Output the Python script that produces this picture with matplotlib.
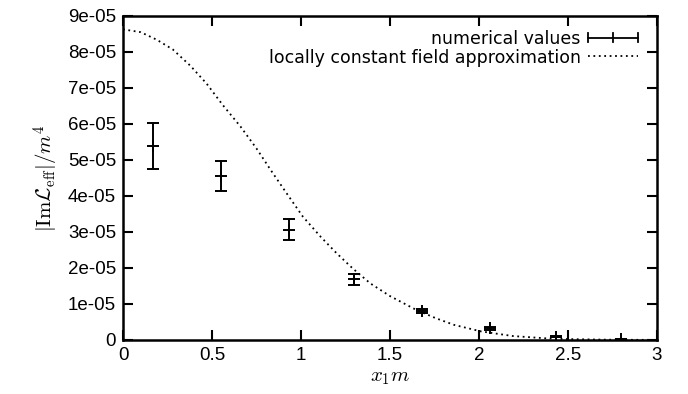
import matplotlib
matplotlib.use("Agg")
import matplotlib.pyplot as plt
from matplotlib.lines import Line2D
from matplotlib.legend_handler import HandlerBase
from matplotlib.container import ErrorbarContainer

# numerical values (x1*m, |Im L_eff|/m^4, error)
x_num = [0.17, 0.55, 0.93, 1.30, 1.68, 2.06, 2.43, 2.80]
y_num = [5.40e-5, 4.56e-5, 3.06e-5, 1.69e-5, 0.80e-5, 0.32e-5, 0.09e-5, 0.02e-5]
y_err = [0.64e-5, 0.41e-5, 0.29e-5, 0.15e-5, 0.05e-5, 0.03e-5, 0.01e-5, 0.005e-5]

# locally constant field approximation
x_lcfa = [0.0, 0.10, 0.19, 0.28, 0.38, 0.47, 0.56, 0.66, 0.75, 0.83, 0.92,
          1.01, 1.11, 1.20, 1.29, 1.39, 1.50, 1.65, 1.76, 1.86, 2.01, 2.19,
          2.38, 2.50, 2.70, 3.0]
y_lcfa = [8.63e-5, 8.55e-5, 8.34e-5, 8.07e-5, 7.61e-5, 7.12e-5, 6.53e-5, 5.93e-5,
          5.32e-5, 4.72e-5, 4.07e-5, 3.43e-5, 2.87e-5, 2.41e-5, 1.99e-5, 1.57e-5,
          1.22e-5, 0.83e-5, 0.60e-5, 0.42e-5, 0.24e-5, 0.11e-5, 0.045e-5,
          0.025e-5, 0.01e-5, 0.002e-5]

xticks = [0, 0.5, 1, 1.5, 2, 2.5, 3]
xticklabels = ["0", "0.5", "1", "1.5", "2", "2.5", "3"]
yticks = [0, 1e-5, 2e-5, 3e-5, 4e-5, 5e-5, 6e-5, 7e-5, 8e-5, 9e-5]
yticklabels = ["0", "1e-05", "2e-05", "3e-05", "4e-05", "5e-05", "6e-05",
               "7e-05", "8e-05", "9e-05"]

plt.rcParams['mathtext.fontset'] = 'cm'

fig = plt.figure(figsize=(6.88, 3.94), dpi=100)
ax = fig.add_axes([123/688, 54/394, (657-123)/688, (340-16)/394])

eb = ax.errorbar(x_num, y_num, yerr=y_err, fmt='+', color='black', ms=9, mew=1.4,
                 elinewidth=1.4, capsize=4.3, capthick=1.4,
                 label='numerical values', zorder=3)
ln, = ax.plot(x_lcfa, y_lcfa, color='black', lw=1.3, ls=(0, (1, 2)),
              label='locally constant field approximation')

ax.set_xlim(0, 3)
ax.set_ylim(0, 9e-5)
ax.set_xticks(xticks)
ax.set_xticklabels(xticklabels, family='Liberation Sans', fontsize=13.5)
ax.set_yticks(yticks)
ax.set_yticklabels(yticklabels, family='Liberation Sans', fontsize=13.5)
ax.tick_params(direction='in', length=7, width=1.5, top=True, right=True, pad=5)
for s in ax.spines.values():
    s.set_linewidth(1.8)

ax.set_xlabel(r'$x_1m$', fontsize=15, labelpad=2)
ax.set_ylabel(r'$|\mathrm{Im}\mathcal{L}_{\mathrm{eff}}|/m^4$', fontsize=15, labelpad=5)


class HandlerHErr(HandlerBase):
    def create_artists(self, legend, orig_handle, xdescent, ydescent, width,
                       height, fontsize, trans):
        y = height / 2 - ydescent
        x0 = -xdescent
        x1 = x0 + width
        xm = (x0 + x1) / 2
        c = height * 0.4
        arts = [Line2D([x0, x1], [y, y], color='black', lw=1.3),
                Line2D([x0, x0], [y - c, y + c], color='black', lw=1.3),
                Line2D([x1, x1], [y - c, y + c], color='black', lw=1.3),
                Line2D([xm, xm], [y - c, y + c], color='black', lw=1.3)]
        for a in arts:
            a.set_transform(trans)
        return arts


leg = ax.legend(handles=[eb, ln], loc='upper right', bbox_to_anchor=(0.984, 0.99),
                frameon=False, markerfirst=False,
                prop={'family': 'DejaVu Sans', 'size': 12.5},
                handlelength=2.9, handletextpad=0.4, labelspacing=0.05,
                borderaxespad=0.3, borderpad=0.3,
                handler_map={ErrorbarContainer: HandlerHErr()})

fig.savefig('out.png', dpi=100)
